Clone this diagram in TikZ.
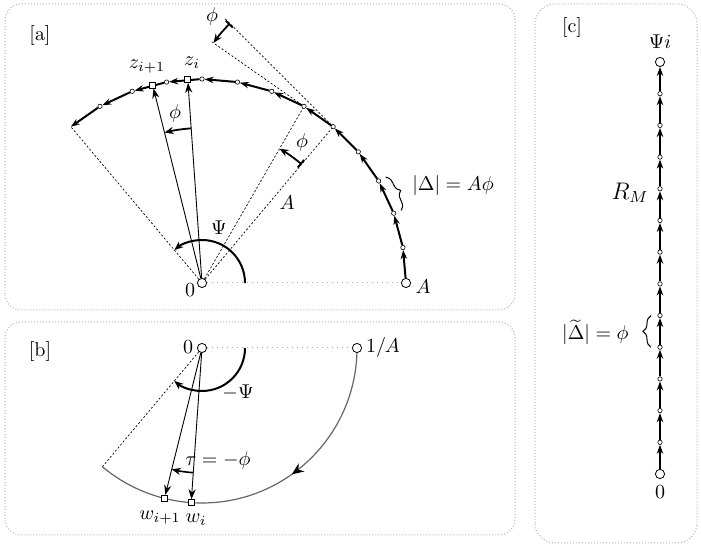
\documentclass[tikz,border=0pt]{standalone}
\usetikzlibrary{arrows.meta,decorations.pathreplacing,decorations.markings,calc}
\pgfdeclarelayer{bg}
\pgfsetlayers{bg,main}
\begin{document}
\begin{tikzpicture}[x=0.5pt,y=0.5pt,
  panel/.style={draw=gray!60,densely dotted,line width=0.5pt,rounded corners=8pt},
  bigpt/.style={circle,draw,fill=white,inner sep=0pt,minimum size=4.6pt,line width=0.4pt},
  smallpt/.style={circle,draw,fill=white,inner sep=0pt,minimum size=2.2pt,line width=0.3pt},
  sqpt/.style={rectangle,draw,fill=white,inner sep=0pt,minimum size=3pt,line width=0.4pt},
  chord/.style={line width=1pt,-{Stealth[length=4.5pt,width=3.2pt]}},
  ray/.style={line width=0.45pt,-{Stealth[length=5pt,width=3.6pt]}},
  angarr/.style={line width=0.9pt,-{Stealth[length=4.5pt,width=3.6pt]}},
  bararr/.style={line width=0.9pt,{Bar[width=5pt]}-{Stealth[length=4.5pt,width=3.6pt]}},
  guide/.style={dash pattern=on 1pt off 1pt,line width=0.35pt},
  axisdot/.style={gray!70,dotted,line width=0.5pt},
  lbl/.style={inner sep=0pt}
]
\useasboundingbox (0,0) rectangle (701,555);

% panel frames
\draw[panel] (5,245) rectangle (515,551);
\draw[panel] (5,20) rectangle (515,233);
\draw[panel,rounded corners=10pt] (535,12) rectangle (697,551);

% ---------------- panel a ----------------
\node[lbl] (la) at (40,519) {[a]};
\begin{scope}[shift={(202,272)}]
  \node[bigpt] (O) at (0,0) {};
  \node[bigpt] (p0) at (0:204) {};
  \foreach \k in {1,...,12} \node[smallpt] (p\k) at (10*\k:204) {};
  \coordinate (pend) at (130:204);
  \node[sqpt] (zi) at (94:204) {};
  \node[sqpt] (zj) at (104:204) {};
  \coordinate (t1) at ($(p5)+(135:153)$);
  \coordinate (t2) at ($(p5)+(145:150)$);
  \begin{pgfonlayer}{bg}
    \draw[axisdot] (O) -- (p0);
    \draw[guide] (O) -- (pend);
    \draw[guide] (O) -- (p5);
    \draw[guide] (O) -- (p6);
    \draw[guide] (p5) -- (t1);
    \draw[guide] (p6) -- (t2);
    \foreach \k [evaluate=\k as \n using int(\k+1)] in {0,...,11}
      \draw[chord] (p\k) -- (p\n);
    \draw[chord] (p12) -- (pend);
  \end{pgfonlayer}
  % arrows to z
  \draw[ray] (O) -- (zi);
  \draw[ray] (O) -- (zj);
  % angle markers
  \draw[angarr] (94:155) arc[start angle=94,end angle=104,radius=155];
  \draw[bararr] (50:155) arc[start angle=50,end angle=60,radius=155];
  \draw[bararr] ($(p5)+(135:146)$) arc[start angle=135,end angle=145,radius=146];
  \draw[angarr,line width=1pt] (0:43) arc[start angle=0,end angle=130,radius=43];
  % brace
  \draw[decorate,decoration={brace,amplitude=4pt},line width=0.5pt]
     ($(p3)+(30:8)$) -- ($(p2)+(20:8)$);
\end{scope}
\node[lbl] at (147,488) {$z_{i+1}$};
\node[lbl] at (192,492) {$z_i$};
\node[lbl] at (175,441) {$\phi$};
\node[lbl] at (302,412) {$\phi$};
\node[lbl] at (212,538) {$\phi$};
\node[lbl] at (287,352) {$A$};
\node[lbl] at (219,327) {$\Psi$};
\node[lbl] at (190,265) {$0$};
\node[lbl] at (423,268) {$A$};
\node[lbl,anchor=west] at (412,369) {$|\Delta| = A\phi$};

% ---------------- panel b ----------------
\node[lbl] (lb) at (40,203) {[b]};
\begin{scope}[shift={(202,207)}]
  \node[bigpt] (Ob) at (0,0) {};
  \node[bigpt] (ia) at (0:155) {};
  \coordinate (bend) at (-130:155);
  \node[sqpt] (wi) at (-94:155) {};
  \node[sqpt] (wj) at (-104:155) {};
  \begin{pgfonlayer}{bg}
    \draw[axisdot] (Ob) -- (ia);
    \draw[guide] (Ob) -- (bend);
    \draw[gray!80!black,line width=0.6pt,
      decoration={markings,mark=at position 0.42 with {\arrow[black]{Stealth[length=6pt,width=5pt]}}},
      postaction={decorate}]
      (ia.center) arc[start angle=0,end angle=-130,radius=155];
  \end{pgfonlayer}
  \draw[ray] (Ob) -- (wi);
  \draw[ray] (Ob) -- (wj);
  \draw[angarr,line width=1pt] (0:43) arc[start angle=0,end angle=-130,radius=43];
  \draw[angarr,line width=0.8pt] (-94:125) arc[start angle=-94,end angle=-104,radius=125];
\end{scope}
\node[lbl] at (188,208) {$0$};
\node[lbl] at (383,207) {$1/A$};
\node[lbl] at (238,162) {$-\Psi$};
\node[lbl] at (218,94) {$\tau = -\phi$};
\node[lbl] at (160,37) {$w_{i+1}$};
\node[lbl] at (196,35) {$w_i$};

% ---------------- panel c ----------------
\node[lbl] (lc) at (572,527) {[c]};
\node[bigpt] (c0) at (660,81) {};
\node[bigpt] (c13) at (660,493) {};
\foreach \k in {1,...,12} \node[smallpt] (c\k) at (660,{81+31.692*\k}) {};
\begin{pgfonlayer}{bg}
  \foreach \k [evaluate=\k as \n using int(\k+1)] in {0,...,12}
    \draw[chord] (c\k) -- (c\n);
\end{pgfonlayer}
\draw[decorate,decoration={brace,amplitude=4pt},line width=0.5pt]
   ($(c4)+(-9,0)$) -- ($(c5)+(-9,0)$);
\node[lbl] at (660,513) {$\Psi i$};
\node[lbl] at (660,63) {$0$};
\node[lbl] at (630,362) {\large $R_M$};
\node[lbl,anchor=east] at (629,223) {$|\widetilde{\Delta}| = \phi$};
\end{tikzpicture}
\end{document}
